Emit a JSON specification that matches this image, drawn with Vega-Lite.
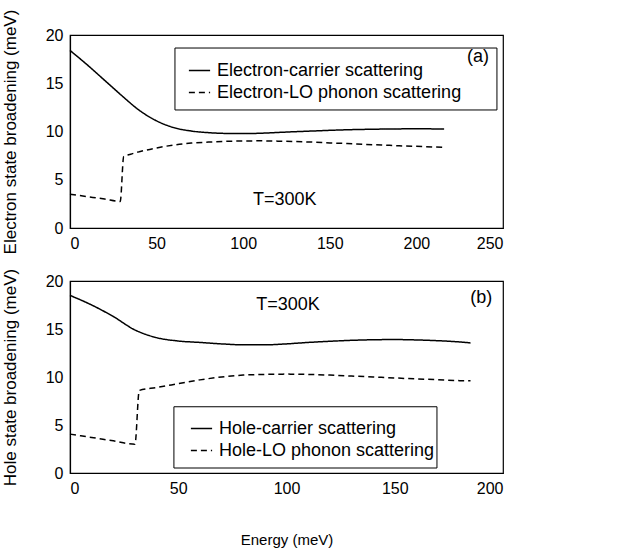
{
  "$schema": "https://vega.github.io/schema/vega-lite/v6.json",
  "padding": {"left": 0, "top": 8, "right": 5, "bottom": 5},
  "background": "white",
  "bounds": "flush",
  "config": {
    "font": "Liberation Sans",
    "view": {"stroke": "black", "strokeWidth": 1.2},
    "axis": {
      "grid": false,
      "domainColor": "black",
      "domainWidth": 1.2,
      "ticks": false,
      "labelColor": "black",
      "labelFont": "Liberation Sans",
      "labelFontSize": 16,
      "labelPadding": 7,
      "titleFont": "Liberation Sans",
      "titleFontSize": 17,
      "titleFontWeight": "normal",
      "titleColor": "black"
    },
    "legend": {
      "labelFont": "Liberation Sans",
      "labelFontSize": 18,
      "labelColor": "black",
      "labelLimit": 400
    }
  },
  "datasets": {
    "a": [
      {"E": 0, "v": 18.4, "s": "Electron-carrier scattering"},
      {"E": 10, "v": 16.9, "s": "Electron-carrier scattering"},
      {"E": 20, "v": 15.3, "s": "Electron-carrier scattering"},
      {"E": 25, "v": 14.5, "s": "Electron-carrier scattering"},
      {"E": 30, "v": 13.7, "s": "Electron-carrier scattering"},
      {"E": 40, "v": 12.2, "s": "Electron-carrier scattering"},
      {"E": 50, "v": 11.1, "s": "Electron-carrier scattering"},
      {"E": 60, "v": 10.4, "s": "Electron-carrier scattering"},
      {"E": 70, "v": 10.05, "s": "Electron-carrier scattering"},
      {"E": 80, "v": 9.88, "s": "Electron-carrier scattering"},
      {"E": 90, "v": 9.8, "s": "Electron-carrier scattering"},
      {"E": 100, "v": 9.78, "s": "Electron-carrier scattering"},
      {"E": 110, "v": 9.82, "s": "Electron-carrier scattering"},
      {"E": 120, "v": 9.9, "s": "Electron-carrier scattering"},
      {"E": 130, "v": 9.98, "s": "Electron-carrier scattering"},
      {"E": 140, "v": 10.05, "s": "Electron-carrier scattering"},
      {"E": 150, "v": 10.12, "s": "Electron-carrier scattering"},
      {"E": 160, "v": 10.18, "s": "Electron-carrier scattering"},
      {"E": 170, "v": 10.22, "s": "Electron-carrier scattering"},
      {"E": 180, "v": 10.25, "s": "Electron-carrier scattering"},
      {"E": 190, "v": 10.27, "s": "Electron-carrier scattering"},
      {"E": 200, "v": 10.28, "s": "Electron-carrier scattering"},
      {"E": 210, "v": 10.27, "s": "Electron-carrier scattering"},
      {"E": 216, "v": 10.25, "s": "Electron-carrier scattering"},
      {"E": 0, "v": 3.5, "s": "Electron-LO phonon scattering"},
      {"E": 10, "v": 3.25, "s": "Electron-LO phonon scattering"},
      {"E": 20, "v": 3.0, "s": "Electron-LO phonon scattering"},
      {"E": 29, "v": 2.75, "s": "Electron-LO phonon scattering"},
      {"E": 31, "v": 7.4, "s": "Electron-LO phonon scattering"},
      {"E": 35, "v": 7.65, "s": "Electron-LO phonon scattering"},
      {"E": 40, "v": 7.9, "s": "Electron-LO phonon scattering"},
      {"E": 50, "v": 8.3, "s": "Electron-LO phonon scattering"},
      {"E": 60, "v": 8.6, "s": "Electron-LO phonon scattering"},
      {"E": 70, "v": 8.8, "s": "Electron-LO phonon scattering"},
      {"E": 80, "v": 8.9, "s": "Electron-LO phonon scattering"},
      {"E": 90, "v": 8.98, "s": "Electron-LO phonon scattering"},
      {"E": 100, "v": 9.02, "s": "Electron-LO phonon scattering"},
      {"E": 110, "v": 9.03, "s": "Electron-LO phonon scattering"},
      {"E": 120, "v": 9.0, "s": "Electron-LO phonon scattering"},
      {"E": 130, "v": 8.96, "s": "Electron-LO phonon scattering"},
      {"E": 140, "v": 8.9, "s": "Electron-LO phonon scattering"},
      {"E": 150, "v": 8.82, "s": "Electron-LO phonon scattering"},
      {"E": 160, "v": 8.75, "s": "Electron-LO phonon scattering"},
      {"E": 170, "v": 8.67, "s": "Electron-LO phonon scattering"},
      {"E": 180, "v": 8.6, "s": "Electron-LO phonon scattering"},
      {"E": 190, "v": 8.52, "s": "Electron-LO phonon scattering"},
      {"E": 200, "v": 8.46, "s": "Electron-LO phonon scattering"},
      {"E": 210, "v": 8.4, "s": "Electron-LO phonon scattering"},
      {"E": 216, "v": 8.37, "s": "Electron-LO phonon scattering"}
    ],
    "b": [
      {"E": 0, "v": 18.5, "s": "Hole-carrier scattering"},
      {"E": 10, "v": 17.5, "s": "Hole-carrier scattering"},
      {"E": 20, "v": 16.3, "s": "Hole-carrier scattering"},
      {"E": 30, "v": 14.9, "s": "Hole-carrier scattering"},
      {"E": 40, "v": 14.1, "s": "Hole-carrier scattering"},
      {"E": 50, "v": 13.75, "s": "Hole-carrier scattering"},
      {"E": 60, "v": 13.6, "s": "Hole-carrier scattering"},
      {"E": 70, "v": 13.45, "s": "Hole-carrier scattering"},
      {"E": 80, "v": 13.35, "s": "Hole-carrier scattering"},
      {"E": 90, "v": 13.35, "s": "Hole-carrier scattering"},
      {"E": 100, "v": 13.45, "s": "Hole-carrier scattering"},
      {"E": 110, "v": 13.6, "s": "Hole-carrier scattering"},
      {"E": 120, "v": 13.72, "s": "Hole-carrier scattering"},
      {"E": 130, "v": 13.82, "s": "Hole-carrier scattering"},
      {"E": 140, "v": 13.88, "s": "Hole-carrier scattering"},
      {"E": 150, "v": 13.9, "s": "Hole-carrier scattering"},
      {"E": 160, "v": 13.86, "s": "Hole-carrier scattering"},
      {"E": 170, "v": 13.78, "s": "Hole-carrier scattering"},
      {"E": 180, "v": 13.65, "s": "Hole-carrier scattering"},
      {"E": 185, "v": 13.55, "s": "Hole-carrier scattering"},
      {"E": 0, "v": 4.05, "s": "Hole-LO phonon scattering"},
      {"E": 10, "v": 3.7, "s": "Hole-LO phonon scattering"},
      {"E": 20, "v": 3.35, "s": "Hole-LO phonon scattering"},
      {"E": 30, "v": 3.0, "s": "Hole-LO phonon scattering"},
      {"E": 32, "v": 8.6, "s": "Hole-LO phonon scattering"},
      {"E": 40, "v": 8.9, "s": "Hole-LO phonon scattering"},
      {"E": 50, "v": 9.3, "s": "Hole-LO phonon scattering"},
      {"E": 60, "v": 9.7, "s": "Hole-LO phonon scattering"},
      {"E": 70, "v": 10.0, "s": "Hole-LO phonon scattering"},
      {"E": 80, "v": 10.2, "s": "Hole-LO phonon scattering"},
      {"E": 90, "v": 10.27, "s": "Hole-LO phonon scattering"},
      {"E": 100, "v": 10.3, "s": "Hole-LO phonon scattering"},
      {"E": 110, "v": 10.27, "s": "Hole-LO phonon scattering"},
      {"E": 120, "v": 10.2, "s": "Hole-LO phonon scattering"},
      {"E": 130, "v": 10.1, "s": "Hole-LO phonon scattering"},
      {"E": 140, "v": 10.0, "s": "Hole-LO phonon scattering"},
      {"E": 150, "v": 9.9, "s": "Hole-LO phonon scattering"},
      {"E": 160, "v": 9.8, "s": "Hole-LO phonon scattering"},
      {"E": 170, "v": 9.72, "s": "Hole-LO phonon scattering"},
      {"E": 180, "v": 9.62, "s": "Hole-LO phonon scattering"},
      {"E": 185, "v": 9.6, "s": "Hole-LO phonon scattering"}
    ]
  },
  "vconcat": [
    {
      "width": 433,
      "height": 193,
      "layer": [
        {
          "data": {"values": [{"x1": 60.6, "x2": 246.5, "y1": 18.65, "y2": 12.23}]},
          "mark": {"type": "rect", "fill": "white", "stroke": "black", "strokeWidth": 1},
          "encoding": {
            "x": {"field": "x1", "type": "quantitative"},
            "x2": {"field": "x2"},
            "y": {"field": "y1", "type": "quantitative"},
            "y2": {"field": "y2"}
          }
        },
        {
          "data": {"name": "a"},
          "mark": {"type": "line", "color": "black", "strokeWidth": 1.5, "interpolate": "monotone"},
          "encoding": {
            "x": {"field": "E", "type": "quantitative", "scale": {"domain": [0, 250], "nice": false},
                  "axis": {"title": null, "values": [0, 50, 100, 150, 200, 250]}},
            "y": {"field": "v", "type": "quantitative", "scale": {"domain": [0, 20], "nice": false},
                  "axis": {"title": "Electron state broadening (meV)", "values": [0, 5, 10, 15, 20], "titlePadding": 26}},
            "strokeDash": {
              "field": "s", "type": "nominal",
              "scale": {"domain": ["Electron-carrier scattering", "Electron-LO phonon scattering"], "range": [[1, 0], [6, 4]]},
              "legend": {"title": null, "orient": "none", "legendX": 118, "legendY": 24, "symbolType": "stroke", "symbolSize": 450, "symbolStrokeWidth": 1.5, "symbolStrokeColor": "black", "labelOffset": 6, "rowPadding": 1, "padding": 0}
            }
          }
        },
        {
          "data": {"values": [{"x": 124, "y": 2.9, "t": "T=300K"}, {"x": 235.6, "y": 17.7, "t": "(a)"}]},
          "mark": {"type": "text", "font": "Liberation Sans", "fontSize": 18, "color": "black"},
          "encoding": {
            "x": {"field": "x", "type": "quantitative"},
            "y": {"field": "y", "type": "quantitative"},
            "text": {"field": "t"}
          }
        }
      ]
    },
    {
      "width": 433,
      "height": 192,
      "layer": [
        {
          "data": {"values": [{"x1": 48, "x2": 169.5, "y1": 6.9, "y2": 0.52}]},
          "mark": {"type": "rect", "fill": "white", "stroke": "black", "strokeWidth": 1},
          "encoding": {
            "x": {"field": "x1", "type": "quantitative"},
            "x2": {"field": "x2"},
            "y": {"field": "y1", "type": "quantitative"},
            "y2": {"field": "y2"}
          }
        },
        {
          "data": {"name": "b"},
          "mark": {"type": "line", "color": "black", "strokeWidth": 1.5, "interpolate": "monotone"},
          "encoding": {
            "x": {"field": "E", "type": "quantitative", "scale": {"domain": [0, 200], "nice": false},
                  "axis": {"title": "Energy (meV)", "titleFontSize": 15, "values": [0, 50, 100, 150, 200], "titlePadding": 36}},
            "y": {"field": "v", "type": "quantitative", "scale": {"domain": [0, 20], "nice": false},
                  "axis": {"title": "Hole state broadening (meV)", "values": [0, 5, 10, 15, 20], "titlePadding": 26}},
            "strokeDash": {
              "field": "s", "type": "nominal",
              "scale": {"domain": ["Hole-carrier scattering", "Hole-LO phonon scattering"], "range": [[1, 0], [6, 4]]},
              "legend": {"title": null, "orient": "none", "legendX": 120, "legendY": 136, "symbolType": "stroke", "symbolSize": 450, "symbolStrokeWidth": 1.5, "symbolStrokeColor": "black", "labelOffset": 6, "rowPadding": 1, "padding": 0}
            }
          }
        },
        {
          "data": {"values": [{"x": 100.7, "y": 17.5, "t": "T=300K"}, {"x": 190, "y": 18.2, "t": "(b)"}]},
          "mark": {"type": "text", "font": "Liberation Sans", "fontSize": 18, "color": "black"},
          "encoding": {
            "x": {"field": "x", "type": "quantitative"},
            "y": {"field": "y", "type": "quantitative"},
            "text": {"field": "t"}
          }
        }
      ]
    }
  ],
  "spacing": 53,
  "resolve": {"scale": {"strokeDash": "independent"}, "legend": {"strokeDash": "independent"}}
}
